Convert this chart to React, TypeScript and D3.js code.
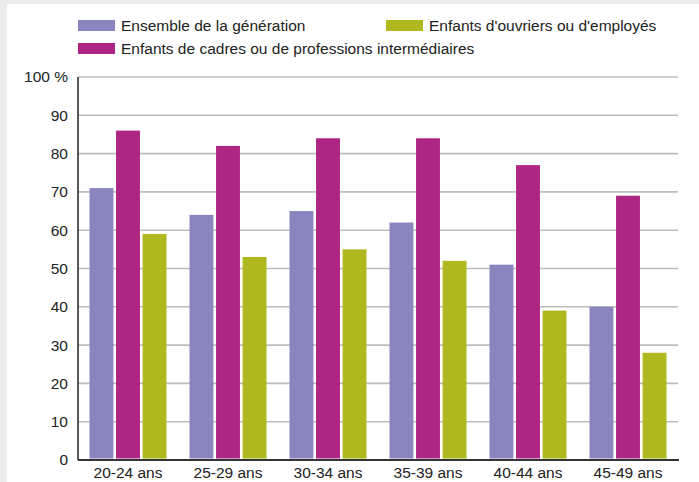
import React, { useEffect, useRef } from "react";
import * as d3 from "d3";

const categories = ["20-24 ans", "25-29 ans", "30-34 ans", "35-39 ans", "40-44 ans", "45-49 ans"];
const seriesNames = [
  "Ensemble de la génération",
  "Enfants de cadres ou de professions intermédiaires",
  "Enfants d'ouvriers ou d'employés",
];
const ensemble = [71, 64, 65, 62, 51, 40];
const cadres = [86, 82, 84, 84, 77, 69];
const ouvriers = [59, 53, 55, 52, 39, 28];
const yTicks = [0, 10, 20, 30, 40, 50, 60, 70, 80, 90, 100];
const colors = ["#8b85bf", "#ad2683", "#b0b81f"];

const W = 699;
const H = 482;

const App: React.FC = () => {
  const svgRef = useRef<SVGSVGElement>(null);

  useEffect(() => {
    if (!svgRef.current) return;
    const svg = d3.select(svgRef.current);
    svg.selectAll("*").remove();

    const font = "'Liberation Sans', Arial, sans-serif";
    const fs = 15.5;
    const margin = { top: 77, right: 21, bottom: 22, left: 78 };
    const width = W - margin.left - margin.right;
    const h = H - margin.top - margin.bottom;

    // background panel
    svg.append("rect").attr("width", W).attr("height", H).attr("fill", "#ececec");
    svg.append("rect").attr("x", 7).attr("y", 4).attr("width", W - 7).attr("height", H - 4).attr("fill", "#fff");

    const g = svg.append("g").attr("transform", `translate(${margin.left},${margin.top})`);

    const x0 = d3.scaleBand().domain(categories).range([0, width]).paddingInner(0).paddingOuter(0);
    const x1 = d3.scaleBand().domain(seriesNames).range([11.5, x0.bandwidth() - 11.5]).paddingInner(0.1);
    const y = d3.scaleLinear().domain([0, 100]).range([h, 0]);

    // grid
    g.append("g")
      .selectAll("line")
      .data(yTicks.filter((t) => t > 0))
      .enter()
      .append("line")
      .attr("x1", 0)
      .attr("x2", width)
      .attr("y1", (d) => y(d))
      .attr("y2", (d) => y(d))
      .attr("stroke", "#bdbdbd")
      .attr("stroke-width", 1.6);

    // bars
    const values = [ensemble, cadres, ouvriers];
    seriesNames.forEach((s, si) => {
      g.append("g")
        .selectAll("rect")
        .data(categories)
        .enter()
        .append("rect")
        .attr("x", (c) => (x0(c) || 0) + (x1(s) || 0))
        .attr("width", x1.bandwidth())
        .attr("y", (c, i) => y(values[si][i]))
        .attr("height", (c, i) => y(0) - y(values[si][i]) - 1.5)
        .attr("fill", colors[si]);
    });

    // axes
    g.append("line").attr("x1", 0).attr("x2", 0).attr("y1", 0).attr("y2", h).attr("stroke", "#222").attr("stroke-width", 1.5);
    g.append("line").attr("x1", 0).attr("x2", width + 1).attr("y1", h).attr("y2", h).attr("stroke", "#333").attr("stroke-width", 2);

    g.append("g")
      .selectAll("text")
      .data(yTicks)
      .enter()
      .append("text")
      .attr("x", -10)
      .attr("y", (d) => y(d))
      .attr("dy", "0.35em")
      .attr("text-anchor", "end")
      .attr("font-family", font)
      .attr("font-size", fs)
      .attr("fill", "#222")
      .text((d) => (d === 100 ? "100 %" : String(d)));

    g.append("g")
      .selectAll("text")
      .data(categories)
      .enter()
      .append("text")
      .attr("x", (c) => (x0(c) || 0) + x0.bandwidth() / 2)
      .attr("y", h + 18)
      .attr("text-anchor", "middle")
      .attr("font-family", font)
      .attr("font-size", fs)
      .attr("fill", "#222")
      .text((c) => c);

    // legend
    const legendItems = [
      { name: seriesNames[0], color: colors[0], x: 78, y: 20 },
      { name: seriesNames[2], color: colors[2], x: 386, y: 20 },
      { name: seriesNames[1], color: colors[1], x: 78, y: 43 },
    ];
    const lg = svg.append("g");
    legendItems.forEach((it) => {
      lg.append("rect").attr("x", it.x).attr("y", it.y).attr("width", 37).attr("height", 11).attr("fill", it.color);
      lg.append("text")
        .attr("x", it.x + 43)
        .attr("y", it.y + 6)
        .attr("dy", "0.35em")
        .attr("font-family", font)
        .attr("font-size", fs)
        .attr("fill", "#222")
        .text(it.name);
    });
  }, []);

  return (
    <div style={{ position: "fixed", left: 0, top: 0 }}>
      <svg ref={svgRef} width={W} height={H} style={{ display: "block" }} />
    </div>
  );
};

export default App;
